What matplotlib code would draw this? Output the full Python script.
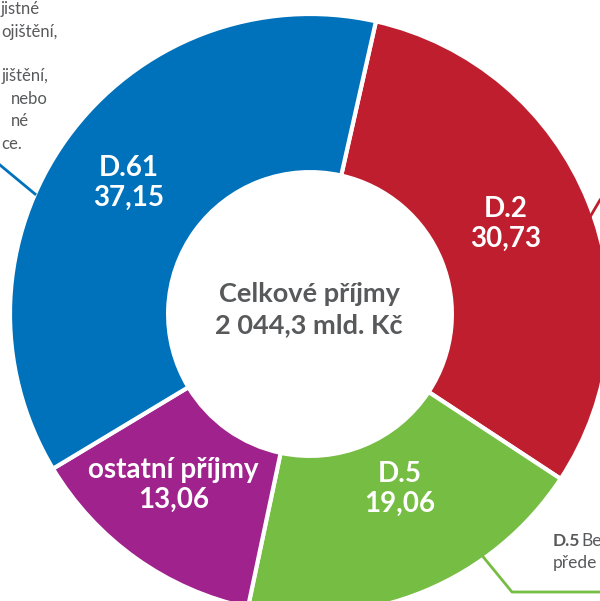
import numpy as np
from matplotlib import pyplot as plt

# podíly na celkových příjmech (%)
labels = ['D.2', 'D.5', 'ostatní příjmy', 'D.61']
values = [30.73, 19.06, 13.06, 37.15]
value_texts = ['30,73', '19,06', '13,06', '37,15']
colors = ['#be1e2d', '#76bd43', '#a0228c', '#0071bb']
center_lines = ['Celkové příjmy', '2 044,3 mld. Kč']

# viditelné kusy popisků mimo graf
left_note = ['jistné', 'ojištění,', '', 'jištění,', 'nebo', 'né', 'ce.']
left_note_x = [1, 1, 0, 2, 11, 11, 1]

plt.rcParams['font.family'] = ['Lato', 'DejaVu Sans']

W, H = 600, 601
fig = plt.figure(figsize=(6, 6.01), dpi=100)
ax = fig.add_axes([0, 0, 1, 1])

cx, cy, R = 310, H - 314, 300
wedges, _ = ax.pie(values, colors=colors, startangle=77.3, counterclock=False,
                   center=(cx, cy), radius=R,
                   wedgeprops=dict(width=R * 0.527, edgecolor='white', linewidth=3))
ax.set_xlim(0, W)
ax.set_ylim(0, H)
ax.set_aspect('equal')
ax.axis('off')

# poloměr (podíl R) a posun úhlu popisku
label_r = [0.717, 0.656, 0.73, 0.746]
label_shift = [2.8, 4.8, -3.2, 0.0]
for w, lab, vt, lr, sh in zip(wedges, labels, value_texts, label_r, label_shift):
    mid = np.deg2rad((w.theta1 + w.theta2) / 2 + sh)
    x = cx + R * lr * np.cos(mid)
    y = cy + R * lr * np.sin(mid)
    ax.text(x, y + 15, lab, ha='center', va='center', color='white', fontsize=20, fontweight='bold')
    ax.text(x, y - 15, vt, ha='center', va='center', color='white', fontsize=20, fontweight='bold')

ax.text(cx - 1, H - 294, center_lines[0], ha='center', va='center', color='#58595b',
        fontsize=19.5, fontweight='bold')
ax.text(cx - 1, H - 325, center_lines[1], ha='center', va='center', color='#58595b',
        fontsize=19.5, fontweight='bold')

for i, (t, xl) in enumerate(zip(left_note, left_note_x)):
    if t:
        ax.text(xl, H - (9 + i * 22.5), t, ha='left', va='center', color='#58595b', fontsize=12)

# odkazové čáry
ax.plot([0, 35], [H - 165, H - 194], color='#0071bb', lw=2)
ax.plot([590, 600], [H - 217, H - 200], color='#be1e2d', lw=2)
ax.plot([480, 512, 600], [H - 553, H - 592, H - 592], color='#76bd43', lw=2)

ax.text(553, H - 541, 'D.5', ha='left', va='center', color='#58595b', fontsize=12.5, fontweight='bold')
ax.text(581, H - 541, 'Be', ha='left', va='center', color='#58595b', fontsize=12.5)
ax.text(553, H - 563, 'přede', ha='left', va='center', color='#58595b', fontsize=12.5)

fig.savefig('out.png', dpi=100)
